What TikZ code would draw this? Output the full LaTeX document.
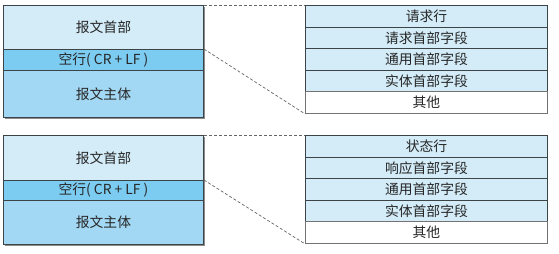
\documentclass[tikz,border=0pt]{standalone}
\usepackage{fontspec}
\newfontfamily\cjk{Noto Sans CJK SC}
\usetikzlibrary{calc}
\definecolor{hdrblue}{HTML}{D3ECF8}
\definecolor{blankblue}{HTML}{7CCBF0}
\definecolor{bodyblue}{HTML}{A3D8F4}
\definecolor{edge}{HTML}{3C4448}
\begin{document}
\begin{tikzpicture}[x=1pt,y=-1pt,
  cell/.style={draw=edge, line width=0.9pt, anchor=north west, inner sep=0pt,
    font=\cjk\fontsize{13.8}{15}\selectfont, text=black!85},
  leftcell/.style={cell, minimum width=200pt},
  rightcell/.style={cell, minimum width=242pt, fill=hdrblue},
  lastcell/.style={cell, minimum width=242pt, fill=white, draw=black!55},
  link/.style={dashed, dash pattern=on 3pt off 2pt, draw=black!60, line width=0.7pt},
  shade/.style={fill=black!45}]
\useasboundingbox (0,0) rectangle (559,254);
% ---------- top (request) ----------
\fill[shade] (5,7) rectangle (205,119);
\node[leftcell, fill=hdrblue, minimum height=44pt] (hA) at (3,5) {报文首部};
\node[leftcell, fill=blankblue, minimum height=21pt] (bA) at (3,49) {空行( CR + LF )};
\node[leftcell, fill=bodyblue, minimum height=47pt] (mA) at (3,70) {报文主体};
\node[rightcell, minimum height=22pt] (rA1) at (305,5) {请求行};
\node[rightcell, minimum height=21pt] (rA2) at (305,27) {请求首部字段};
\node[rightcell, minimum height=22pt] (rA3) at (305,48) {通用首部字段};
\node[rightcell, minimum height=21pt] (rA4) at (305,70) {实体首部字段};
\node[lastcell, minimum height=22pt] (rA5) at (305,91) {其他};
\draw[link] (hA.north east) -- (rA1.north west);
\draw[link] (bA.north east) -- (rA5.south west);
% ---------- bottom (response) ----------
\fill[shade] (5,137) rectangle (205,246);
\node[leftcell, fill=hdrblue, minimum height=45pt] (hB) at (3,135) {报文首部};
\node[leftcell, fill=blankblue, minimum height=20pt] (bB) at (3,180) {空行( CR + LF )};
\node[leftcell, fill=bodyblue, minimum height=44pt] (mB) at (3,200) {报文主体};
\node[rightcell, minimum height=22pt] (rB1) at (305,135) {状态行};
\node[rightcell, minimum height=21pt] (rB2) at (305,157) {响应首部字段};
\node[rightcell, minimum height=22pt] (rB3) at (305,178) {通用首部字段};
\node[rightcell, minimum height=21pt] (rB4) at (305,200) {实体首部字段};
\node[lastcell, minimum height=22pt] (rB5) at (305,221) {其他};
\draw[link] (hB.north east) -- (rB1.north west);
\draw[link] (bB.north east) -- (rB5.south west);
\end{tikzpicture}
\end{document}
